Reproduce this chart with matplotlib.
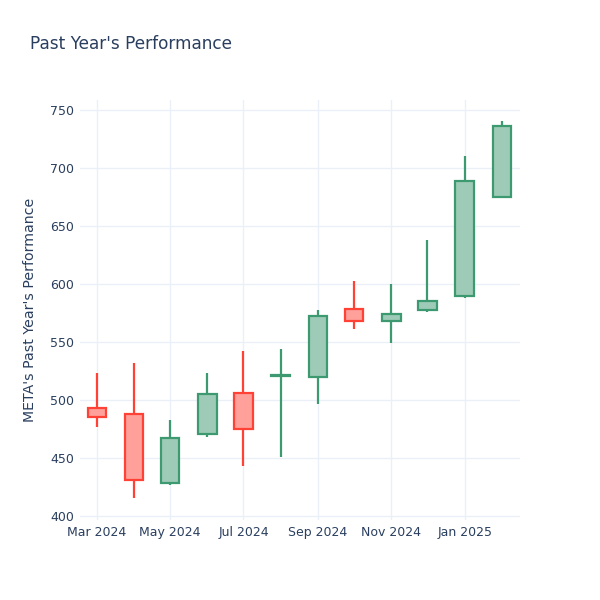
import matplotlib
matplotlib.use('Agg')
import matplotlib.pyplot as plt
import matplotlib.dates as mdates
import numpy as np
from datetime import datetime

plt.rcParams['font.family'] = ['DejaVu Sans']

dates = ['2024-03-01', '2024-04-01', '2024-05-01', '2024-06-01',
         '2024-07-01', '2024-08-01', '2024-09-01', '2024-10-01',
         '2024-11-01', '2024-12-01', '2025-01-01', '2025-02-01']
opens = [492.8, 488.0, 428.2, 470.7, 505.8, 521.0, 519.5, 578.2, 567.8, 577.6, 589.7, 675.3]
highs = [523.6, 531.6, 482.8, 523.0, 542.5, 544.2, 577.6, 602.9, 599.7, 637.9, 710.3, 740.5]
lows = [476.4, 415.2, 426.9, 468.4, 443.1, 451.1, 496.3, 561.5, 548.9, 575.9, 588.2, 675.3]
closes = [485.6, 431.0, 467.5, 504.9, 474.7, 521.4, 572.4, 567.8, 574.4, 585.6, 689.1, 736.5]

up_line = '#3D9970'
up_fill = '#9ECBB7'
down_line = '#FF4136'
down_fill = '#FFA09A'
text_color = '#2a3f5f'
grid_color = '#EBF0F8'

x = mdates.date2num([datetime.strptime(d, '%Y-%m-%d') for d in dates])

fig = plt.figure(figsize=(6, 6), dpi=100)
ax = fig.add_axes([80 / 600, 80 / 600, 440 / 600, 420 / 600])

width = 15.5
lw = 1.6
for xi, o, h, l, c in zip(x, opens, highs, lows, closes):
    up = c >= o
    lc = up_line if up else down_line
    fc = up_fill if up else down_fill
    top = max(o, c)
    bot = min(o, c)
    ax.plot([xi, xi], [top, h], color=lc, lw=lw, solid_capstyle='butt', zorder=3)
    ax.plot([xi, xi], [l, bot], color=lc, lw=lw, solid_capstyle='butt', zorder=3)
    ax.add_patch(plt.Rectangle((xi - width / 2, bot), width, max(top - bot, 0.01),
                               facecolor=fc, edgecolor=lc, lw=lw, zorder=4))

ax.set_xlim(mdates.date2num(datetime(2024, 2, 16)), mdates.date2num(datetime(2025, 2, 16)))
ax.set_ylim(396.6, 758.6)
ax.set_yticks(np.arange(400, 751, 50))
ax.xaxis.set_major_locator(mdates.MonthLocator(bymonth=[1, 3, 5, 7, 9, 11]))
ax.xaxis.set_major_formatter(mdates.DateFormatter('%b %Y'))

ax.grid(True, color=grid_color, lw=1)
ax.set_axisbelow(True)
for s in ax.spines.values():
    s.set_visible(False)
ax.tick_params(length=0, labelsize=9, colors=text_color, pad=4)

ax.set_ylabel("META's Past Year's Performance", fontsize=10.2, color=text_color, labelpad=10)
fig.text(30 / 600, 1 - 44 / 600, "Past Year's Performance", fontsize=12.2,
         color=text_color, va='center', ha='left')

plt.savefig('out.png', dpi=100)
